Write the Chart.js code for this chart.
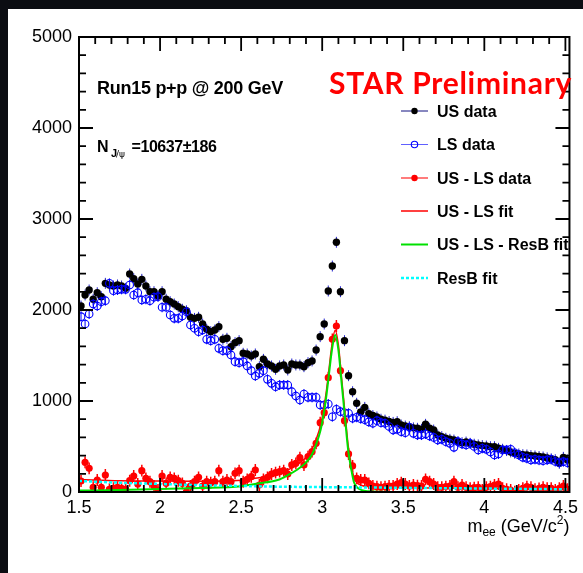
<!DOCTYPE html>
<html>
<head>
<meta charset="utf-8">
<title>J/psi dielectron mass</title>
<script src="https://cdn.jsdelivr.net/npm/chart.js@4.4.1/dist/chart.umd.min.js"></script>
<style>
  html, body { margin: 0; padding: 0; background: #fff; overflow: hidden; }
</style>
</head>
<body>
<canvas id="massChart" width="583" height="573"></canvas>
<script>
// dielectron invariant mass, 25 MeV bins starting at 1.5 GeV
const massStart = 1.5
const binWidth = 0.025

const usData = [
  2044, 2165, 2220, 2118, 2190, 2146, 2293, 2275, 2264, 2275,
  2264, 2238, 2396, 2344, 2286, 2337, 2264, 2201, 2201, 2154,
  2201, 2118, 2091, 2066, 2036, 2008, 1992, 1920, 1908, 1920,
  1846, 1788, 1762, 1780, 1817, 1678, 1689, 1597, 1641, 1663,
  1524, 1517, 1495, 1517, 1377, 1458, 1407, 1385, 1348, 1385,
  1396, 1341, 1407, 1396, 1396, 1377, 1421, 1440, 1560, 1707,
  1846, 2209, 2483, 2744, 2201, 1663, 1278, 1102, 975, 880,
  930, 860, 840, 825, 800, 790, 775, 765, 773, 736,
  725, 718, 705, 700, 689, 744, 700, 681, 626, 608,
  590, 579, 571, 553, 542, 549, 535, 525, 517, 510,
  505, 498, 498, 480, 470, 455, 440, 425, 418, 410,
  407, 400, 396, 390, 385, 375, 365, 355, 315, 381,
  352
]

const lsData = [
  1927, 1846, 1956, 2066, 2044, 2091, 2102, 2293, 2212, 2220,
  2227, 2227, 2275, 2165, 2190, 2110, 2118, 2102, 2140, 2146,
  2030, 2030, 1945, 1908, 1908, 1934, 1981, 1835, 1799, 1762,
  1780, 1678, 1663, 1678, 1579, 1553, 1553, 1506, 1432, 1421,
  1432, 1385, 1333, 1275, 1304, 1333, 1238, 1194, 1157, 1176,
  1176, 1176, 1102, 1055, 1011, 1077, 1040, 1040, 1040, 956,
  956, 967, 827, 909, 883, 871, 865, 810, 821, 805,
  795, 770, 755, 784, 762, 755, 720, 681, 689, 663,
  652, 711, 645, 626, 626, 637, 615, 600, 571, 579,
  553, 535, 491, 553, 527, 517, 535, 500, 462, 480,
  469, 440, 407, 418, 462, 462, 469, 430, 407, 381,
  370, 352, 359, 350, 344, 352, 359, 335, 322, 333,
  322
]

const usMinusLs = [
  121, 326, 260, 52, 132, 52, 187, 30, 41, 52,
  41, 30, 124, 176, 88, 234, 150, 113, 66, 22,
  176, 95, 161, 150, 124, 95, 3, 66, 113, 161,
  66, 113, 102, 113, 234, 113, 132, 113, 205, 234,
  113, 139, 168, 242, 77, 139, 161, 198, 212, 223,
  234, 198, 297, 315, 377, 297, 388, 443, 535, 762,
  872, 1256, 1678, 1824, 1333, 784, 418, 286, 150, 132,
  132, 95, 66, 58, 52, 60, 66, 66, 88, 102,
  88, 66, 77, 70, 66, 139, 113, 88, 52, 52,
  60, 66, 113, 52, 77, 52, 41, 47, 52, 22,
  52, 60, 77, 88, 41, 30, 22, 3, 22, 41,
  58, 52, 30, 40, 52, 41, 41, 22, 41, 66,
  30
]

// statistical error half-widths
const usErr = 60
const lsErr = 55
const usLsErr = 65

// fit curves
const fitMass = [1.5, 1.75, 2.0, 2.25, 2.5, 2.61, 2.73, 2.79, 2.845, 2.895, 2.935, 2.965, 2.99, 3.01, 3.025, 3.04,
  3.06, 3.08, 3.1, 3.12, 3.14, 3.16, 3.18, 3.195, 3.215, 3.245, 3.285, 3.35, 3.5, 4.0, 4.525]
const usLsFit = [137, 124, 120, 119, 130, 157, 193, 244, 301, 370, 462, 589, 735, 919, 1100, 1320,
  1613, 1778, 1613, 1247, 880, 514, 294, 165, 102, 72, 59, 53, 47, 38, 30]
const usLsResBFit = [16, 22, 32, 44, 64, 95, 135, 187, 245, 315, 407, 535, 681, 865, 1047, 1267,
  1560, 1725, 1560, 1194, 827, 462, 242, 113, 50, 20, 8, 3, 1, 0, 0]
const resBMass = [1.5, 1.75, 2.0, 2.25, 2.5, 2.75, 3.0, 3.5, 4.0, 4.525]
const resBFit = [121, 102, 88, 75, 66, 58, 54, 46, 38, 30]

const xTicks = [1.5, 2, 2.5, 3, 3.5, 4, 4.5]
const yTicks = [0, 1000, 2000, 3000, 4000, 5000]

const legendLabels = ['US data', 'LS data', 'US - LS data', 'US - LS fit', 'US - LS - ResB fit', 'ResB fit']

const helv = '"Liberation Sans", Arial, Helvetica, sans-serif'

const toPoints = (vals) => vals.map((v, i) => ({x: massStart + binWidth * (i + 0.5), y: v}))
const toCurve = (xs, ys) => xs.map((x, i) => ({x: x, y: ys[i]}))

function fitText(ctx, text, x, y, font, width){
  ctx.font = font
  ctx.letterSpacing = '0px'
  const w = ctx.measureText(text).width
  const n = [...text].length
  ctx.letterSpacing = ((width - w) / n).toFixed(2) + 'px'
  ctx.fillText(text, x, y)
  ctx.letterSpacing = '0px'
}

const rootStyle = {
  id: 'rootStyle',
  beforeDraw(chart){
    const ctx = chart.ctx
    ctx.save()
    ctx.fillStyle = '#fff'
    ctx.fillRect(0, 0, chart.width, chart.height)
    ctx.fillStyle = '#0b0d12'
    ctx.fillRect(0, 0, chart.width, 9)
    ctx.fillRect(0, 0, 8, chart.height)
    ctx.restore()
  },
  beforeDatasetDraw(chart, args){
    const ds = chart.data.datasets[args.index]
    if(!ds.errBar) return
    const ctx = chart.ctx
    const area = chart.chartArea
    const ys = chart.scales.y
    ctx.save()
    ctx.beginPath()
    ctx.rect(area.left, area.top, area.right - area.left, area.bottom - area.top)
    ctx.clip()
    ctx.strokeStyle = ds.errColor
    ctx.lineWidth = ds.errWidth
    ctx.beginPath()
    args.meta.data.forEach((el, i) => {
      const v = ds.data[i].y
      ctx.moveTo(el.x, ys.getPixelForValue(v - ds.errBar))
      ctx.lineTo(el.x, ys.getPixelForValue(v + ds.errBar))
    })
    ctx.stroke()
    ctx.restore()
  },
  afterDraw(chart){
    const ctx = chart.ctx
    const {left, top, right, bottom} = chart.chartArea
    const xs = chart.scales.x
    const ys = chart.scales.y
    ctx.save()

    // frame and inward ticks on all four sides
    ctx.strokeStyle = '#000'
    ctx.lineWidth = 2
    ctx.strokeRect(left, top, right - left, bottom - top)
    ctx.lineWidth = 1.8
    ctx.beginPath()
    for(let k = 15; k <= 45; k++){
      const px = xs.getPixelForValue(k / 10)
      const len = k % 5 === 0 ? 14 : 7
      ctx.moveTo(px, bottom); ctx.lineTo(px, bottom - len)
      ctx.moveTo(px, top); ctx.lineTo(px, top + len)
    }
    for(let k = 0; k <= 25; k++){
      const py = ys.getPixelForValue(k * 200)
      const len = k % 5 === 0 ? 14 : 7
      ctx.moveTo(left, py); ctx.lineTo(left + len, py)
      ctx.moveTo(right, py); ctx.lineTo(right - len, py)
    }
    ctx.stroke()

    // x axis title m_ee (GeV/c^2)
    ctx.fillStyle = '#000'
    const big = '18px ' + helv
    const small = '12px ' + helv
    const parts = [['m', big, 0], ['ee', small, 4], [' (GeV/c', big, 0], ['2', small, -8], [')', big, 0]]
    let total = 0
    parts.forEach(p => { ctx.font = p[1]; total += ctx.measureText(p[0]).width })
    let tx = right - total
    parts.forEach(p => {
      ctx.font = p[1]
      ctx.fillText(p[0], tx, 532 + p[2])
      tx += ctx.measureText(p[0]).width
    })

    // run label and yield
    fitText(ctx, 'Run15 p+p @ 200 GeV', 97, 94, 'bold 18px ' + helv, 186)
    ctx.font = 'bold 16px ' + helv
    ctx.fillText('N', 97, 152)
    ctx.font = 'bold 11px ' + helv
    ctx.fillText('J', 111, 156.5)
    ctx.font = '9px "DejaVu Sans", sans-serif'
    ctx.fillText('/\u03c8', 116, 156.5)
    fitText(ctx, '=10637\u00b1186', 131.5, 152, 'bold 16px ' + helv, 85)

    ctx.fillStyle = '#ff0000'
    fitText(ctx, 'STAR Preliminary', 329, 94, 'bold 30px Lato, "Open Sans", sans-serif', 243)

    // legend
    const rowY = [111, 144.5, 178, 211, 244.5, 278]
    const x0 = 401, x1 = 428, xm = 414.5
    legendLabels.forEach((label, i) => {
      const y = rowY[i]
      const ds = chart.data.datasets[i]
      ctx.save()
      ctx.beginPath()
      ctx.moveTo(x0, y); ctx.lineTo(x1, y)
      if(i === 0){ ctx.strokeStyle = '#101080'; ctx.lineWidth = 1 }
      else if(i === 1){ ctx.strokeStyle = '#6060ff'; ctx.lineWidth = 1 }
      else if(i === 2){ ctx.strokeStyle = '#ff5050'; ctx.lineWidth = 1.5 }
      else {
        ctx.strokeStyle = ds.borderColor
        ctx.lineWidth = ds.borderWidth
        if(ds.borderDash) ctx.setLineDash(ds.borderDash)
      }
      ctx.stroke()
      ctx.setLineDash([])
      if(i < 3){
        ctx.beginPath()
        ctx.arc(xm, y, 3.2, 0, Math.PI * 2)
        if(i === 1){
          ctx.strokeStyle = ds.pointBorderColor
          ctx.lineWidth = ds.pointBorderWidth
          ctx.stroke()
        } else {
          ctx.fillStyle = ds.pointBackgroundColor
          ctx.fill()
        }
      }
      ctx.restore()
      ctx.fillStyle = '#000'
      ctx.font = 'bold 16px ' + helv
      ctx.fillText(label, 437, y + 5.5)
    })
    ctx.restore()
  }
}

window.onload = () => {
  const canvas = document.getElementById('massChart')
  const tickFont = {family: helv, size: 18}

  new Chart(canvas.getContext('2d'), {
    type: 'scatter',
    data: {
      datasets: [
        {label: legendLabels[0], data: toPoints(usData), pointRadius: 3.7, pointBackgroundColor: '#000',
          pointBorderColor: '#000', pointBorderWidth: 0, errBar: usErr, errColor: '#2222cc', errWidth: 1, order: 6},
        {label: legendLabels[1], data: toPoints(lsData), pointRadius: 3.8, pointBackgroundColor: 'rgba(0,0,0,0)',
          pointBorderColor: '#0000ff', pointBorderWidth: 1.1, errBar: lsErr, errColor: '#0000ff', errWidth: 1, order: 5},
        {label: legendLabels[2], data: toPoints(usMinusLs), pointRadius: 3.6, pointBackgroundColor: '#ff0000',
          pointBorderColor: '#ff0000', pointBorderWidth: 0, errBar: usLsErr, errColor: '#ff0000', errWidth: 1.5, order: 4},
        {label: legendLabels[3], data: toCurve(fitMass, usLsFit), showLine: true, pointRadius: 0,
          borderColor: '#ff0000', borderWidth: 1.5, cubicInterpolationMode: 'monotone', order: 3},
        {label: legendLabels[4], data: toCurve(fitMass, usLsResBFit), showLine: true, pointRadius: 0,
          borderColor: '#00e000', borderWidth: 2, cubicInterpolationMode: 'monotone', order: 2},
        {label: legendLabels[5], data: toCurve(resBMass, resBFit), showLine: true, pointRadius: 0,
          borderColor: '#00ffff', borderWidth: 2.5, borderDash: [3, 2], cubicInterpolationMode: 'monotone', order: 1}
      ]
    },
    options: {
      responsive: false,
      devicePixelRatio: 1,
      animation: false,
      events: [],
      layout: {padding: {top: 37, right: 11, left: 0, bottom: 0}},
      plugins: {legend: {display: false}, tooltip: {enabled: false}},
      scales: {
        x: {
          type: 'linear', min: 1.5, max: 4.525,
          grid: {display: false, drawTicks: false},
          border: {display: false},
          ticks: {font: tickFont, color: '#000', padding: 5, maxRotation: 0, autoSkip: false,
            callback: v => String(+v.toFixed(2))},
          afterBuildTicks: s => { s.ticks = xTicks.map(v => ({value: v})) },
          afterFit: s => { s.height = 81 }
        },
        y: {
          type: 'linear', min: 0, max: 5000,
          grid: {display: false, drawTicks: false},
          border: {display: false},
          ticks: {font: tickFont, color: '#000', padding: 7, callback: v => String(v)},
          afterBuildTicks: s => { s.ticks = yTicks.map(v => ({value: v})) },
          afterFit: s => { s.width = 79 }
        }
      }
    },
    plugins: [rootStyle]
  })
}
</script>
</body>
</html>
